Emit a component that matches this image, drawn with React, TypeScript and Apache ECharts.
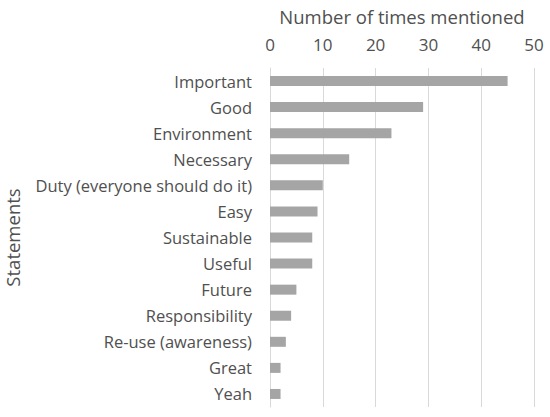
import { useEffect, useRef } from "react";
import * as echarts from "echarts";

const statements = [
  "Important",
  "Good",
  "Environment",
  "Necessary",
  "Duty (everyone should do it)",
  "Easy",
  "Sustainable",
  "Useful",
  "Future",
  "Responsibility",
  "Re-use (awareness)",
  "Great",
  "Yeah",
];
const mentions = [45, 29, 23, 15, 10, 9, 8, 8, 5, 4, 3, 2, 2];
const xTicks = { min: 0, max: 50, interval: 10 };

const FONT = "'Open Sans', 'Noto Sans', sans-serif";
const TEXT = "#505050";

export default function App() {
  const ref = useRef<HTMLDivElement | null>(null);

  useEffect(() => {
    if (!ref.current) return;
    const chart = echarts.init(ref.current, undefined, { renderer: "svg" });

    chart.setOption({
      animation: false,
      backgroundColor: "#ffffff",
      grid: {
        left: 270,
        right: 16,
        top: 68,
        bottom: 10,
        containLabel: false,
        outerBoundsMode: "none",
      },
      xAxis: {
        type: "value",
        position: "top",
        min: xTicks.min,
        max: xTicks.max,
        interval: xTicks.interval,
        name: "Number of times mentioned",
        nameLocation: "middle",
        nameGap: 42,
        nameTextStyle: { color: TEXT, fontSize: 18.5, fontFamily: FONT },
        axisLine: { show: false },
        axisTick: { show: false },
        axisLabel: { color: TEXT, fontSize: 17, fontFamily: FONT, margin: 15 },
        splitLine: { lineStyle: { color: "#d9d9d9", width: 1 } },
      },
      yAxis: {
        type: "category",
        inverse: true,
        data: statements,
        name: "Statements",
        nameLocation: "middle",
        nameGap: 248,
        nameRotate: 90,
        nameTextStyle: { color: TEXT, fontSize: 18.5, fontFamily: FONT },
        axisLine: { show: true, lineStyle: { color: "#d9d9d9", width: 1 } },
        axisTick: { show: false },
        axisLabel: { color: TEXT, fontSize: 16.5, fontFamily: FONT, margin: 18 },
      },
      series: [
        {
          type: "bar",
          data: mentions,
          barWidth: 10,
          itemStyle: { color: "#a5a5a5" },
        },
      ],
    });

    return () => chart.dispose();
  }, []);

  return (
    <div
      ref={ref}
      style={{ position: "absolute", left: 0, top: 0, width: 550, height: 417 }}
    />
  );
}
